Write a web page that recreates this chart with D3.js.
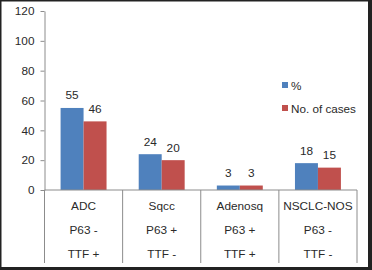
<!DOCTYPE html>
<html><head><meta charset="utf-8">
<script src="https://cdn.jsdelivr.net/npm/d3@7"></script>
<style>body{margin:0;background:#fff}svg{display:block}</style>
</head><body>
<script>
const categories = ["ADC","Sqcc","Adenosq","NSCLC-NOS"];
const line2 = ["P63 -","P63 +","P63 +","P63 -"];
const line3 = ["TTF +","TTF -","TTF +","TTF -"];
const seriesNames = ["%","No. of cases"];
const pct = [55,24,3,18];
const cases = [46,20,3,15];
const yTicks = [0,20,40,60,80,100,120];
const colors = ["#4F81BD","#C0504D"];

(function(){
const W=372,H=270;
const svg=d3.select("body").append("svg").attr("width",W).attr("height",H);
svg.append("rect").attr("width",W).attr("height",H).attr("fill","#fff");
// frame (thin top/left, heavier right/bottom)
svg.append("rect").attr("x",0).attr("y",0).attr("width",W).attr("height",1.5).attr("fill","#222");
svg.append("rect").attr("x",0).attr("y",0).attr("width",1.5).attr("height",H).attr("fill","#222");
svg.append("rect").attr("x",W-4).attr("y",0).attr("width",4).attr("height",H).attr("fill","#222");
svg.append("rect").attr("x",0).attr("y",H-3).attr("width",W).attr("height",3).attr("fill","#222");

const pL=44.5,pR=357,pT=11,pB=190;
const x=d3.scaleBand().domain(categories).range([pL,pR]).paddingInner(0).paddingOuter(0);
const y=d3.scaleLinear().domain([0,120]).range([pB,pT]);
const xs=d3.scaleBand().domain(seriesNames).range([0,x.bandwidth()]).paddingInner(0).paddingOuter(0.7);

const font="'Liberation Sans', Arial, sans-serif";
const textCol="#2a2a2a";
const fs=11.8;

const ya=svg.append("g").attr("transform",`translate(${pL},0)`)
 .call(d3.axisLeft(y).tickValues(yTicks).tickSize(4).tickPadding(6).tickSizeOuter(0));
ya.select(".domain").attr("stroke","#8c8c8c");
ya.selectAll(".tick line").attr("stroke","#8c8c8c");
ya.selectAll(".tick text").attr("font-family",font).attr("font-size",fs).attr("fill",textCol);

const data=[pct,cases];
data.forEach((vals,si)=>{
  svg.append("g").selectAll("rect").data(categories).join("rect")
    .attr("x",c=>x(c)+xs(seriesNames[si]))
    .attr("width",xs.bandwidth())
    .attr("y",(c,i)=>y(vals[i]))
    .attr("height",(c,i)=>y(0)-y(vals[i]))
    .attr("fill",colors[si]);
  svg.append("g").selectAll("text").data(categories).join("text")
    .attr("x",c=>x(c)+xs(seriesNames[si])+xs.bandwidth()/2)
    .attr("y",(c,i)=>y(vals[i])-8.5)
    .attr("text-anchor","middle")
    .attr("font-family",font).attr("font-size",fs).attr("fill",textCol)
    .text((c,i)=>vals[i]);
});

svg.append("line").attr("x1",pL).attr("x2",pR).attr("y1",pB).attr("y2",pB).attr("stroke","#8c8c8c");
const bounds=categories.map(c=>x(c)).concat([x(categories[categories.length-1])+x.bandwidth()]);
svg.append("g").selectAll("line").data(bounds).join("line")
  .attr("x1",d=>d).attr("x2",d=>d).attr("y1",pB).attr("y2",263).attr("stroke","#8c8c8c");

const rows=[categories,line2,line3];
const rowY=[209.5,234,258];
rows.forEach((arr,ri)=>{
  svg.append("g").selectAll("text").data(categories).join("text")
   .attr("x",c=>x(c)+x.bandwidth()/2).attr("y",rowY[ri])
   .attr("text-anchor","middle").attr("font-family",font).attr("font-size",fs).attr("fill",textCol)
   .text((c,i)=>arr[i]);
});

seriesNames.forEach((s,i)=>{
  const ly=82+i*23;
  svg.append("rect").attr("x",282).attr("y",ly).attr("width",6).attr("height",6).attr("fill",colors[i]);
  svg.append("text").attr("x",291).attr("y",ly+8).attr("font-family",font).attr("font-size",11.7)
    .attr("fill",textCol).text(s);
});
})();
</script>
</body></html>
